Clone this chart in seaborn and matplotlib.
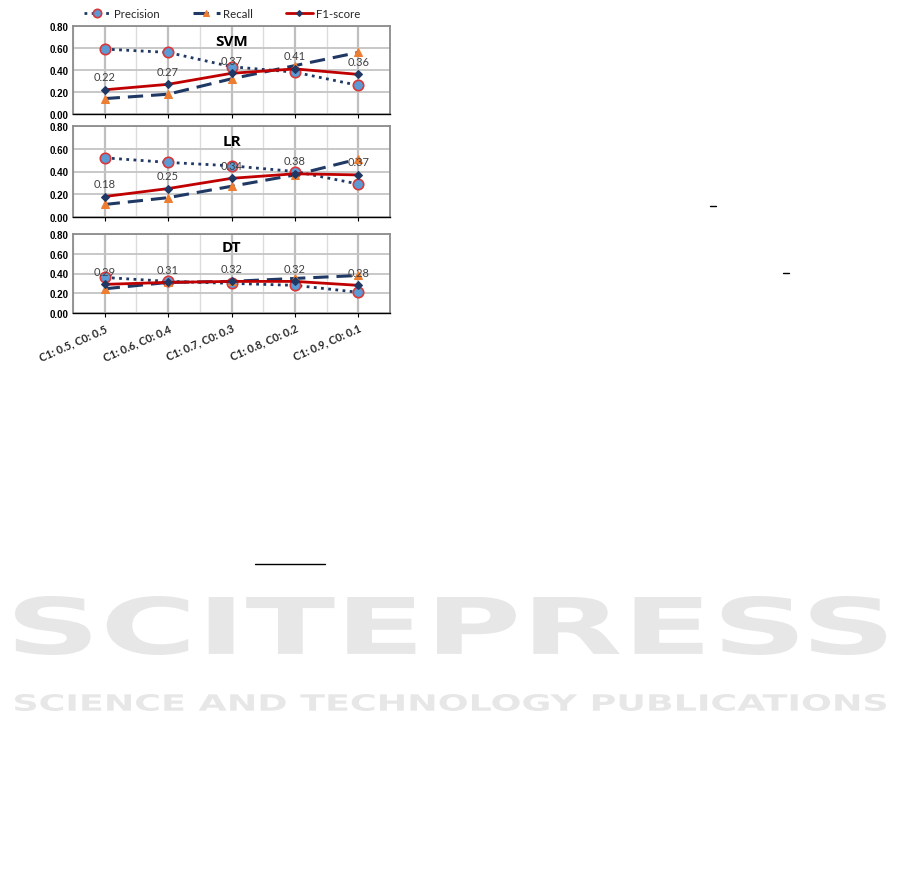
import pandas as pd
import seaborn as sns
import matplotlib.pyplot as plt
from matplotlib.lines import Line2D
from matplotlib.patches import PathPatch
from matplotlib.textpath import TextPath
from matplotlib.font_manager import FontProperties
from matplotlib.transforms import Affine2D

# Threshold settings (x axis)
settings = ["C1: 0.5, C0: 0.5", "C1: 0.6, C0: 0.4", "C1: 0.7, C0: 0.3",
            "C1: 0.8, C0: 0.2", "C1: 0.9, C0: 0.1"]
models = ["SVM", "LR", "DT"]

# Values
svm_precision = [0.59, 0.56, 0.43, 0.38, 0.26]
svm_recall = [0.14, 0.18, 0.32, 0.44, 0.56]
svm_f1 = [0.22, 0.27, 0.37, 0.41, 0.36]

lr_precision = [0.52, 0.48, 0.45, 0.40, 0.29]
lr_recall = [0.11, 0.17, 0.27, 0.37, 0.51]
lr_f1 = [0.18, 0.25, 0.34, 0.38, 0.37]

dt_precision = [0.36, 0.32, 0.30, 0.28, 0.21]
dt_recall = [0.245, 0.31, 0.32, 0.35, 0.38]
dt_f1 = [0.29, 0.31, 0.32, 0.32, 0.28]

yticks = [0.0, 0.2, 0.4, 0.6, 0.8]

sns.set_theme(style="white")
plt.rcParams["font.family"] = ["Lato", "DejaVu Sans"]

W, H = 901, 887
fig = plt.figure(figsize=(W / 100, H / 100), dpi=100)
fig.patch.set_facecolor("white")


def px_axes(left, top, right, bottom):
    return fig.add_axes([left / W, 1 - bottom / H, (right - left) / W, (bottom - top) / H])


def fit_text(text, x0, y0, x1, y1, color):
    # stretch a text outline into a pixel box (page watermark)
    tp = TextPath((0, 0), text, size=1, prop=FontProperties(family="DejaVu Sans", weight="bold"))
    ext = tp.get_extents()
    sx = (x1 - x0) / W / ext.width
    sy = (y1 - y0) / H / ext.height
    tr = Affine2D().translate(-ext.x0, -ext.y0).scale(sx, sy).translate(x0 / W, 1 - y1 / H)
    patch = PathPatch(tr.transform_path(tp), facecolor=color, edgecolor="none",
                      transform=fig.transFigure, zorder=0)
    fig.add_artist(patch)


# faint publisher watermark in the page background
fit_text("SCITEPRESS", 15, 597, 886, 656, "#E6E7E6")
fit_text("SCIENCE AND TECHNOLOGY PUBLICATIONS", 15, 695, 886, 712, "#E6E7E6")

# stray page marks
for (xa, xb, yy) in [(255, 325, 565), (710, 716, 207), (783, 789, 274)]:
    fig.add_artist(Line2D([xa / W, xb / W], [1 - yy / H, 1 - yy / H], color="black",
                          lw=1, transform=fig.transFigure))

data = {
    "SVM": (svm_precision, svm_recall, svm_f1),
    "LR": (lr_precision, lr_recall, lr_f1),
    "DT": (dt_precision, dt_recall, dt_f1),
}
boxes = {"SVM": (73, 27, 390, 115), "LR": (73, 127, 390, 218), "DT": (73, 235, 390, 314)}

navy = "#1F3864"
red = "#C00000"
tick_font = {"family": ["Liberation Sans", "DejaVu Sans"], "size": 7, "weight": "bold"}

axes = []
for m in models:
    prec, rec, f1 = data[m]
    ax = px_axes(*boxes[m])
    axes.append(ax)
    df = pd.DataFrame({"setting": settings, "Precision": prec, "Recall": rec, "F1-score": f1})

    sns.lineplot(data=df, x="setting", y="Precision", ax=ax, sort=False, color=navy,
                 linestyle=(0, (1, 1.6)), lw=2, marker="o", ms=7.5,
                 markerfacecolor="#5B9BD5", markeredgecolor="#D9383A", markeredgewidth=1.2,
                 label="Precision", zorder=3)
    sns.lineplot(data=df, x="setting", y="Recall", ax=ax, sort=False, color=navy,
                 linestyle=(0, (5, 2.6)), lw=2.2, marker="^", ms=5.5,
                 markerfacecolor="#ED7D31", markeredgecolor="#ED7D31",
                 label="Recall", zorder=4)
    sns.lineplot(data=df, x="setting", y="F1-score", ax=ax, sort=False, color=red,
                 lw=2, marker="D", ms=3.8, markerfacecolor=navy, markeredgecolor=navy,
                 label="F1-score", zorder=5)

    for i, v in enumerate(f1):
        ax.annotate(f"{v:.2f}", (i, v), textcoords="offset points", xytext=(0, 9.5),
                    ha="center", va="center", fontsize=8, color="#404040", zorder=6)

    ax.text(0.5, 0.83, m, transform=ax.transAxes, ha="center", va="center",
            fontsize=11, fontweight="bold", color="black",
            family=["Open Sans", "DejaVu Sans"])

    ax.set_xlim(-0.5, 4.5)
    ax.set_ylim(0, 0.8)
    ax.set_yticks(yticks)
    ax.set_yticklabels([f"{t:.2f}" for t in yticks], fontdict=tick_font)
    ax.set_xticks(range(len(settings)))
    ax.set_xticks([i + 0.5 for i in range(-1, len(settings))], minor=True)
    ax.grid(True, which="major", axis="x", color="#BFBFBF", lw=1.6, zorder=0)
    ax.grid(True, which="minor", axis="x", color="#DCDCDC", lw=1.0, zorder=0)
    ax.grid(True, which="major", axis="y", color="#C4C4C4", lw=1.3, zorder=0)
    ax.set_axisbelow(True)
    ax.tick_params(axis="y", length=0, pad=3, colors="black")
    ax.tick_params(axis="x", which="major", length=3, width=0.8, direction="out",
                   color="black", bottom=True)
    ax.tick_params(axis="x", which="minor", length=0)
    ax.set_xlabel("")
    ax.set_ylabel("")
    for side in ["left", "top", "right"]:
        ax.spines[side].set_color("#8C8C8C")
        ax.spines[side].set_linewidth(1.3)
    ax.spines["bottom"].set_color("black")
    ax.spines["bottom"].set_linewidth(1.0)
    ax.get_legend().remove()

    if m == "DT":
        ax.set_xticklabels(settings, rotation=24, ha="right", rotation_mode="anchor",
                           fontsize=7.8, fontweight="bold")
    else:
        ax.set_xticklabels([])

handles, labels = axes[0].get_legend_handles_labels()
fig.legend(handles, labels, loc="center", bbox_to_anchor=(222 / W, 1 - 14 / H), ncol=3,
           frameon=False, handlelength=2.4, columnspacing=2.9, handletextpad=0.25,
           markerscale=0.8, prop={"family": ["Lato", "DejaVu Sans"], "size": 8.2})

fig.savefig("out.png", dpi=100, facecolor="white")
